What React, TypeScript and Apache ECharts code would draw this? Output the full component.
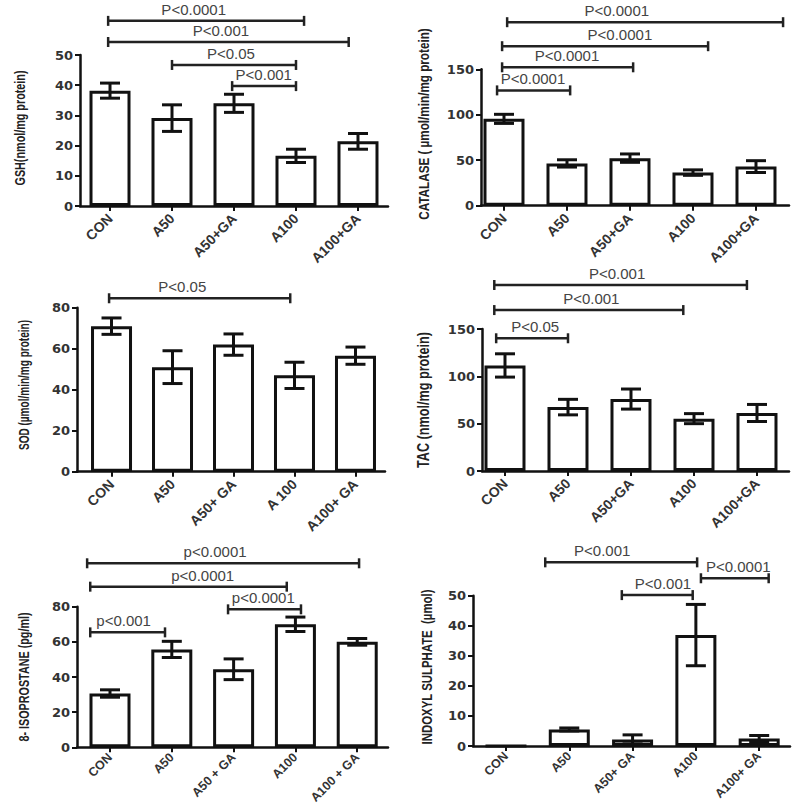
import React, { useEffect, useRef } from "react";
import * as echarts from "echarts";

// ---------- categories ----------
const groupsStd = ["CON", "A50", "A50+GA", "A100", "A100+GA"];
const groupsSod = ["CON", "A50", "A50+ GA", "A 100", "A100+ GA"];
const groupsIso = ["CON", "A50", "A50 + GA", "A100", "A100 + GA"];
const groupsInd = ["CON", "A50", "A50+ GA", "A100", "A100+ GA"];

// ---------- series values (mean, error) ----------
const gshMean = [38.2, 29.1, 34, 16.6, 21.4];
const gshErr = [2.5, 4.4, 3, 2.2, 2.6];
const catMean = [95.5, 46.5, 52.3, 36.4, 43];
const catErr = [5, 4, 4.6, 3, 6.5];
const sodMean = [71, 51, 62, 47, 56.6];
const sodErr = [4, 8, 5.2, 6.4, 4.2];
const tacMean = [111.5, 67.5, 76, 55.3, 61.3];
const tacErr = [12.3, 8.2, 10.6, 5.3, 9];
const isoMean = [30.6, 55.7, 44.4, 70, 60];
const isoErr = [2.1, 4.6, 5.9, 4.1, 1.9];
const indMean = [0, 5.5, 2.2, 36.9, 2.5];
const indErr = [0, 0.5, 1.5, 10.2, 1.0];

// ---------- significance brackets: [from, to, level, labelAt, text] ----------
const gshSig: [number, number, number, number, string][] = [
  [-0.03, 3.13, 61.3, 1.35, "P<0.0001"],
  [-0.03, 3.85, 54.3, 1.79, "P<0.001"],
  [1.0, 3.0, 46.7, 1.95, "P<0.05"],
  [1.97, 3.0, 39.7, 2.48, "P<0.001"],
];
const catSig: [number, number, number, number, string][] = [
  [0.05, 4.43, 201.8, 1.79, "P<0.0001"],
  [-0.03, 3.24, 175.4, 1.84, "P<0.0001"],
  [-0.03, 2.05, 152.2, 1.0, "P<0.0001"],
  [-0.11, 1.05, 126.8, 0.46, "P<0.0001"],
];
const sodSig: [number, number, number, number, string][] = [
  [-0.04, 2.93, 84.6, 1.16, "P<0.05"],
];
const tacSig: [number, number, number, number, string][] = [
  [-0.17, 3.84, 196.5, 1.78, "P<0.001"],
  [-0.17, 2.83, 170, 1.37, "P<0.001"],
  [-0.14, 1.0, 140.2, 0.48, "P<0.05"],
];
const isoSig: [number, number, number, number, string][] = [
  [-0.37, 4.03, 104.7, 1.7, "p<0.0001"],
  [-0.32, 2.86, 91.4, 1.5, "p<0.0001"],
  [1.91, 3.09, 78.5, 2.48, "p<0.0001"],
  [-0.32, 0.89, 65.4, 0.22, "p<0.001"],
];
const indSig: [number, number, number, number, string][] = [
  [0.62, 3.02, 61.1, 1.52, "P<0.001"],
  [3.08, 4.15, 55.8, 3.67, "P<0.0001"],
  [1.83, 2.95, 50.2, 2.48, "P<0.001"],
];

// ---------- axis titles ----------
const titles = [
  "GSH(nmol/mg protein)",
  "CATALASE ( \u00b5mol/min/mg protein)",
  "SOD (\u00b5mol/min/mg protein)",
  "TAC (nmol/mg protein)",
  "8- ISOPROSTANE (pg/ml)",
  "INDOXYL SULPHATE  (\u00b5mol)",
];

// ---------- layout (pixels / axis ranges) ----------
const panels = [
  { names: groupsStd, mean: gshMean, err: gshErr, sig: gshSig, yMax: 50, yInt: 10,
    grid: { left: 80, top: 55, width: 308, height: 151 }, xMin: -0.484, xMax: 4.484,
    lab: { size: 14, margin: 10 },
    title: { x: 20, y: 128, size: 15, sx: 0.72 } },
  { names: groupsStd, mean: catMean, err: catErr, sig: catSig, yMax: 150, yInt: 50,
    grid: { left: 481, top: 69.3, width: 308, height: 136.4 }, xMin: -0.365, xMax: 4.524,
    lab: { size: 14, margin: 10 },
    title: { x: 424, y: 124, size: 15, sx: 0.78 } },
  { names: groupsSod, mean: sodMean, err: sodErr, sig: sodSig, yMax: 80, yInt: 20,
    grid: { left: 77, top: 307.7, width: 308, height: 164 }, xMin: -0.566, xMax: 4.484,
    lab: { size: 14, margin: 10 },
    title: { x: 24, y: 385, size: 15, sx: 0.67 } },
  { names: groupsStd, mean: tacMean, err: tacErr, sig: tacSig, yMax: 150, yInt: 50,
    grid: { left: 482, top: 329, width: 307, height: 142 }, xMin: -0.365, xMax: 4.508,
    lab: { size: 14, margin: 10 },
    title: { x: 423, y: 400, size: 16, sx: 0.79 } },
  { names: groupsIso, mean: isoMean, err: isoErr, sig: isoSig, yMax: 80, yInt: 20,
    grid: { left: 77, top: 606.7, width: 311, height: 140.6 }, xMin: -0.534, xMax: 4.498,
    lab: { size: 12.5, margin: 8 },
    title: { x: 24, y: 677, size: 15, sx: 0.72 } },
  { names: groupsInd, mean: indMean, err: indErr, sig: indSig, yMax: 50, yInt: 10,
    grid: { left: 473, top: 595.7, width: 317, height: 150.3 }, xMin: -0.521, xMax: 4.487,
    lab: { size: 12.5, margin: 8 },
    title: { x: 427, y: 667, size: 15, sx: 0.76 } },
];

const INK = "#111";
const TXT = "#333";
const FONT = '"Liberation Sans", Arial, sans-serif';
const TICKFONT = '"DejaVu Sans", "Liberation Sans", sans-serif';

function buildOption() {
  const grid: any[] = [];
  const xAxis: any[] = [];
  const yAxis: any[] = [];
  const series: any[] = [];
  const graphic: any[] = [];

  panels.forEach((p, gi) => {
    grid.push({ ...p.grid, containLabel: false, outerBoundsMode: "none" });
    const ticks = p.names.map((_, i) => i);
    xAxis.push({
      type: "value",
      gridIndex: gi,
      min: p.xMin,
      max: p.xMax,
      splitLine: { show: false },
      axisLine: { show: true, onZero: false, lineStyle: { color: INK, width: 2.5 } },
      axisTick: { show: true, customValues: ticks, length: 5, lineStyle: { color: INK, width: 2 } },
      axisLabel: {
        customValues: ticks,
        rotate: 45,
        formatter: (v: number) => p.names[Math.round(v)] ?? "",
        color: TXT,
        fontFamily: FONT,
        fontWeight: "bold",
        fontSize: p.lab.size,
        margin: p.lab.margin,
      },
    });
    yAxis.push({
      type: "value",
      gridIndex: gi,
      min: 0,
      max: p.yMax,
      interval: p.yInt,
      splitLine: { show: false },
      axisLine: { show: true, onZero: false, lineStyle: { color: INK, width: 2.5 } },
      axisTick: { show: true, length: 5, lineStyle: { color: INK, width: 2 } },
      axisLabel: { color: TXT, fontFamily: TICKFONT, fontWeight: "bold", fontSize: 13, margin: 7 },
    });
    series.push({
      type: "bar",
      xAxisIndex: gi,
      yAxisIndex: gi,
      barWidth: 41,
      data: p.mean.map((v, i) => [i, v]),
      itemStyle: { color: "#fff", borderColor: INK, borderWidth: 3 },
      z: 2,
    });
    const errs = p.err;
    series.push({
      type: "custom",
      xAxisIndex: gi,
      yAxisIndex: gi,
      clip: false,
      z: 3,
      silent: true,
      data: p.mean.map((v, i) => [i, v, errs[i]]),
      encode: { x: 0, y: 1 },
      renderItem: (_params: any, api: any) => {
        const x = api.value(0);
        const m = api.value(1);
        const e = api.value(2);
        if (!e) return null;
        const hi = api.coord([x, m + e]);
        const lo = api.coord([x, m - e]);
        const cw = 10;
        const style = { stroke: INK, lineWidth: 3 };
        return {
          type: "group",
          children: [
            { type: "line", shape: { x1: hi[0], y1: hi[1], x2: lo[0], y2: lo[1] }, style },
            { type: "line", shape: { x1: hi[0] - cw, y1: hi[1], x2: hi[0] + cw, y2: hi[1] }, style },
            { type: "line", shape: { x1: lo[0] - cw, y1: lo[1], x2: lo[0] + cw, y2: lo[1] }, style },
          ],
        };
      },
    });
    const sig = p.sig;
    series.push({
      type: "custom",
      xAxisIndex: gi,
      yAxisIndex: gi,
      clip: false,
      z: 4,
      silent: true,
      data: sig.map((s) => [s[0], s[2], s[1], s[3]]),
      encode: { x: 0, y: 1 },
      renderItem: (params: any, api: any) => {
        const s = sig[params.dataIndex];
        const p1 = api.coord([s[0], s[2]]);
        const p2 = api.coord([s[1], s[2]]);
        const pt = api.coord([s[3], s[2]]);
        const style = { stroke: "#222", lineWidth: 2.5 };
        const ch = 5;
        return {
          type: "group",
          children: [
            { type: "line", shape: { x1: p1[0], y1: p1[1], x2: p2[0], y2: p2[1] }, style },
            { type: "line", shape: { x1: p1[0], y1: p1[1] - ch, x2: p1[0], y2: p1[1] + ch }, style },
            { type: "line", shape: { x1: p2[0], y1: p2[1] - ch, x2: p2[0], y2: p2[1] + ch }, style },
            {
              type: "text",
              x: pt[0],
              y: pt[1] - 4,
              style: {
                text: s[4],
                align: "center",
                verticalAlign: "bottom",
                fontFamily: FONT,
                fontSize: 15,
                fill: "#444",
              },
            },
          ],
        };
      },
    });
    graphic.push({
      type: "text",
      x: p.title.x,
      y: p.title.y,
      rotation: Math.PI / 2,
      scaleX: p.title.sx,
      style: {
        text: titles[gi],
        align: "center",
        verticalAlign: "middle",
        fontFamily: FONT,
        fontWeight: "bold",
        fontSize: p.title.size,
        fill: "#222",
      },
    });
  });

  return {
    animation: false,
    backgroundColor: "#fff",
    grid,
    xAxis,
    yAxis,
    series,
    graphic,
  };
}

export default function App() {
  const ref = useRef<HTMLDivElement>(null);
  useEffect(() => {
    if (!ref.current) return;
    const chart = echarts.init(ref.current, null, { renderer: "svg" });
    chart.setOption(buildOption() as any);
    return () => chart.dispose();
  }, []);
  return (
    <div
      ref={ref}
      style={{ position: "absolute", left: 0, top: 0, width: 800, height: 805 }}
    />
  );
}
